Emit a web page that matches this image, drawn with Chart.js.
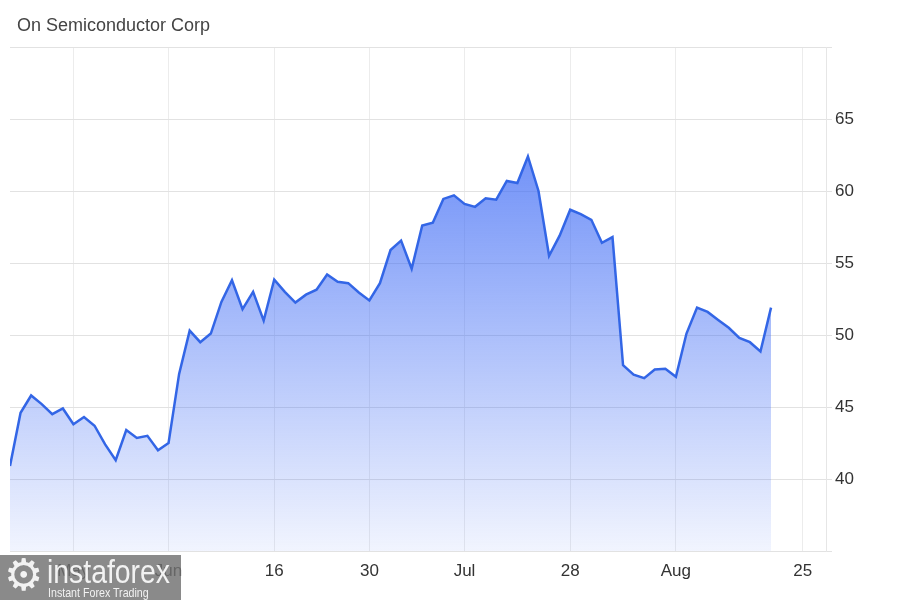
<!DOCTYPE html>
<html>
<head>
<meta charset="utf-8">
<script src="https://cdn.jsdelivr.net/npm/chart.js@4.4.1/dist/chart.umd.min.js"></script>
<style>
    body { margin: 0; background: #fff; }
    #wrap { position: relative; width: 900px; height: 600px; }
    #title { position: absolute; left: 17px; top: 16px; font: 18px/18px "Liberation Sans", Arial, sans-serif; color: #444; }
    #mark { position: absolute; left: 0; top: 555px; width: 181px; height: 45px; background: rgba(112,112,112,0.82); color: #f2f2f2; font-family: "Liberation Sans", sans-serif; overflow: hidden; }
    #mark .gear { position: absolute; left: 4px; top: -2px; font: 44px/44px "DejaVu Sans", sans-serif; }
    #mark .big { position: absolute; left: 47px; top: 0px; font-size: 33px; line-height: 33px; transform: scaleX(0.86); transform-origin: left top; white-space: nowrap; }
    #mark .small { position: absolute; left: 48px; top: 31px; font-size: 13px; line-height: 13px; transform: scaleX(0.82); transform-origin: left top; white-space: nowrap; }
</style>
</head>
<body>
<div id="wrap">
    <canvas id="price-chart" width="900" height="600"></canvas>
    <div id="title">On Semiconductor Corp</div>
    <div id="mark"><span class="gear">⚙</span><span class="big">instaforex</span><span class="small">Instant Forex Trading</span></div>
</div>
<script>
// daily closes, trading days from May 9 to Aug 22
const closes = [
    40.9, 44.6, 45.8, 45.2, 44.5, 44.9, 43.8, 44.3, 43.7, 42.4,
    41.3, 43.4, 42.85, 43.0, 42.0, 42.5, 47.3, 50.3, 49.5, 50.1,
    52.3, 53.8, 51.8, 53.0, 51.0, 53.85, 53.0, 52.25, 52.8, 53.15,
    54.2, 53.7, 53.6, 52.95, 52.4, 53.6, 55.9, 56.55, 54.6, 57.6,
    57.8, 59.45, 59.7, 59.1, 58.9, 59.5, 59.4, 60.7, 60.55, 62.4,
    60.0, 55.5, 56.9, 58.7, 58.4, 58.0, 56.4, 56.8, 47.9, 47.25,
    47.0, 47.6, 47.65, 47.1, 50.1, 51.9, 51.6, 51.05, 50.5, 49.8,
    49.5, 48.85, 51.9
];

// x ticks sit on trading-day index positions
const tickPos = [6, 15, 25, 34, 43, 53, 63, 75];
const tickLabels = ['May', 'Jun', '16', '30', 'Jul', '28', 'Aug', '25'];

const fontFam = '"Liberation Sans", Arial, sans-serif';

const fillGradient = (ctx) => {
    const area = ctx.chart.chartArea;
    if (!area) return 'rgba(60,105,245,0.4)';
    let g = ctx.chart.ctx.createLinearGradient(0, area.top, 0, area.bottom);
    g.addColorStop(0, 'rgba(60,105,245,0.9)');
    g.addColorStop(1, 'rgba(60,105,245,0.07)');
    return g;
};

let priceChart = new Chart(document.getElementById('price-chart'), {
    type: 'line',
    data: {
        datasets: [{
            data: closes.map((v, i) => ({ x: i, y: v })),
            borderColor: '#3366e6',
            borderWidth: 2.5,
            backgroundColor: fillGradient,
            fill: 'start',
            pointRadius: 0,
            tension: 0
        }]
    },
    options: {
        responsive: false,
        animation: false,
        layout: { padding: { top: 47, left: 10, right: 0, bottom: 0 } },
        plugins: {
            legend: { display: false },
            tooltip: { enabled: false }
        },
        scales: {
            x: {
                type: 'linear',
                min: 0,
                max: 77.2,
                afterBuildTicks: (scale) => { scale.ticks = tickPos.map(v => ({ value: v })); },
                afterFit: (scale) => { scale.height = 49; },
                ticks: {
                    autoSkip: false,
                    maxRotation: 0,
                    padding: 10,
                    color: '#333',
                    font: { family: fontFam, size: 17 },
                    callback: (v, i) => tickLabels[i]
                },
                grid: { color: '#ececec', drawTicks: false },
                border: { display: false }
            },
            y: {
                position: 'right',
                min: 35,
                max: 70,
                afterFit: (scale) => { scale.width = 74; },
                ticks: {
                    stepSize: 5,
                    padding: 3,
                    color: '#333',
                    font: { family: fontFam, size: 17 },
                    callback: (v) => (v === 35 || v === 70) ? '' : v
                },
                grid: { color: '#e2e2e2', tickLength: 6 },
                border: { display: true, color: '#e6e6e6' }
            }
        }
    }
});
</script>
</body>
</html>
